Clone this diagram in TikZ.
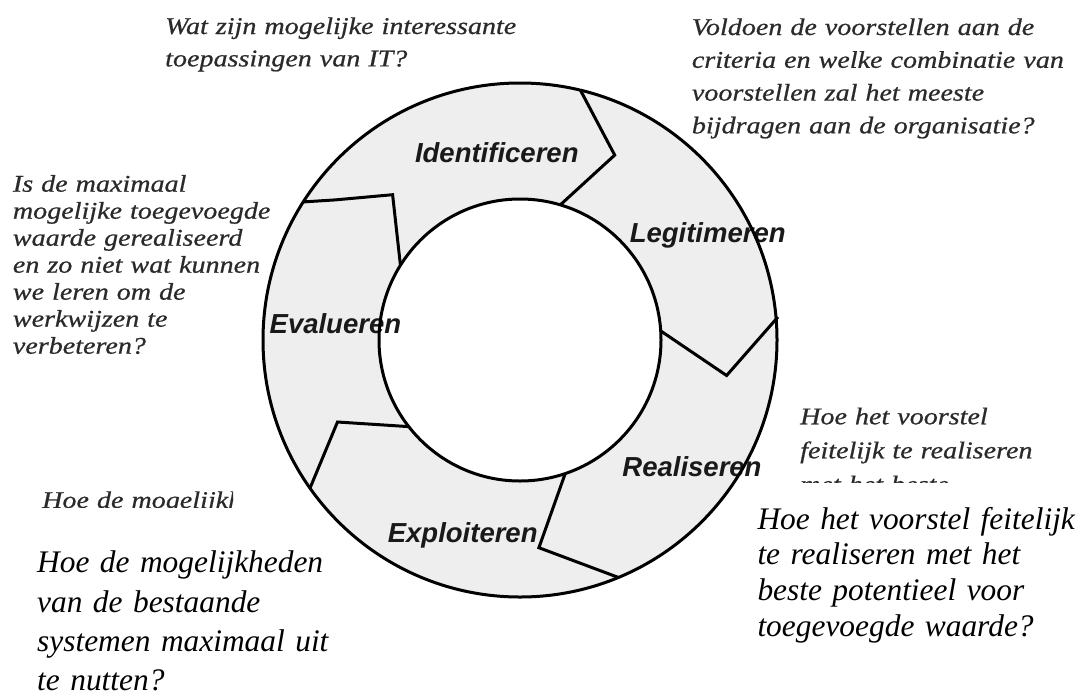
\documentclass[tikz,border=0pt]{standalone}
\usepackage{fontspec}
\setmainfont{Liberation Serif}
\newfontfamily\qfont{Liberation Serif}[FakeStretch=1.17,FakeBold=0.6]
\newfontfamily\lblfont{Liberation Sans}
\definecolor{ringfill}{RGB}{238,238,238}
\definecolor{qgray}{RGB}{42,42,42}
\definecolor{lblcol}{RGB}{25,25,25}
\begin{document}
\begin{tikzpicture}[x=1pt,y=-1pt,
  ringline/.style={line width=3pt, black},
  phase/.style={anchor=base, inner sep=0pt, text=lblcol,
    font=\lblfont\bfseries\itshape\fontsize{27.5}{33}\selectfont},
  question/.style={anchor=base west, inner sep=0pt, align=left, text width=420pt,
    text=qgray, font=\qfont\itshape\fontsize{24}{#1}\selectfont},
  question/.default=32.8,
  answer/.style={anchor=base west, inner sep=0pt, align=left, text width=420pt,
    text=black, font=\itshape\fontsize{31.4}{#1}\selectfont},
  answer/.default=36]
\useasboundingbox (0,0) rectangle (1076,694);
\fill[white] (0,0) rectangle (1076,694);

% centre of the ring
\coordinate (C) at (520,340);

% ring body
\fill[ringfill, even odd rule] (C) circle (257) (C) circle (141);

% phase labels
\node[phase] (lIdent) at (496.8,162) {Identificeren};
\node[phase] (lLegit) at (707.7,242.9) {Legitimeren};
\node[phase] (lEval)  at (335.4,333.5) {Evalueren};
\node[phase] (lReal)  at (692,476) {Realiseren};
\node[phase] (lExpl)  at (462.7,542.5) {Exploiteren};

% ring outlines
\draw[ringline] (C) circle (257);
\draw[ringline] (C) circle (141);

% arrow heads between the phases
\coordinate (b1o) at ([shift={(520,340)}]-76.4:257);
\coordinate (b1t) at (614.7,155.1);
\coordinate (b1i) at ([shift={(520,340)}]-73.4:141);
\coordinate (b2i) at ([shift={(520,340)}]-3.7:141);
\coordinate (b2t) at (726.6,375.5);
\coordinate (b2o) at ([shift={(520,340)}]-5.1:259);
\coordinate (b3i) at ([shift={(520,340)}]71.3:141);
\coordinate (b3t) at (538.9,547.7);
\coordinate (b3o) at ([shift={(520,340)}]67.5:257);
\coordinate (b4i) at ([shift={(520,340)}]142.1:141);
\coordinate (b4t) at (337.5,422);
\coordinate (b4o) at ([shift={(520,340)}]144.8:257);
\coordinate (b5o) at ([shift={(520,340)}]-147.5:257);
\coordinate (b5m) at (335.1,199.9);
\coordinate (b5t) at (392.6,194.7);
\coordinate (b5i) at ([shift={(520,340)}]-148:141);

\draw[ringline] (b1o) -- (b1t) -- (b1i);
\draw[ringline] (b2i) -- (b2t) -- (b2o);
\draw[ringline] (b3i) -- (b3t) -- (b3o);
\draw[ringline] (b4i) -- (b4t) -- (b4o);
\draw[ringline] (b5o) -- (b5m) -- (b5t) -- (b5i);

% questions per phase
\node[question=32.4] (qIdent) at (165,34)
  {Wat zijn mogelijke interessante\\toepassingen van IT?};
\node[question=32.8] (qLegit) at (691.7,35)
  {Voldoen de voorstellen aan de\\criteria en welke combinatie van\\voorstellen zal het meeste\\bijdragen aan de organisatie?};
\node[question=27] (qEval) at (12.7,191.7)
  {Is de maximaal\\mogelijke toegevoegde\\waarde gerealiseerd\\en zo niet wat kunnen\\we leren om de\\werkwijzen te\\verbeteren?};

\begin{scope}
  \clip (790,395) rectangle (1076,482.3);
  \node[question=34] (qReal) at (800,424.3)
    {Hoe het voorstel\\feitelijk te realiseren\\met het beste};
\end{scope}
\begin{scope}
  \clip (30,480) rectangle (233,507);
  \node[question] (qExpl) at (42,508) {Hoe de mogelijkheden};
\end{scope}

\node[answer=39.3] (aExpl) at (37,572.7)
  {Hoe de mogelijkheden\\van de bestaande\\systemen maximaal uit\\te nutten?};
\node[answer=35.6] (aReal) at (757.3,529.3)
  {Hoe het voorstel feitelijk\\te realiseren met het\\beste potentieel voor\\toegevoegde waarde?};
\end{tikzpicture}
\end{document}
